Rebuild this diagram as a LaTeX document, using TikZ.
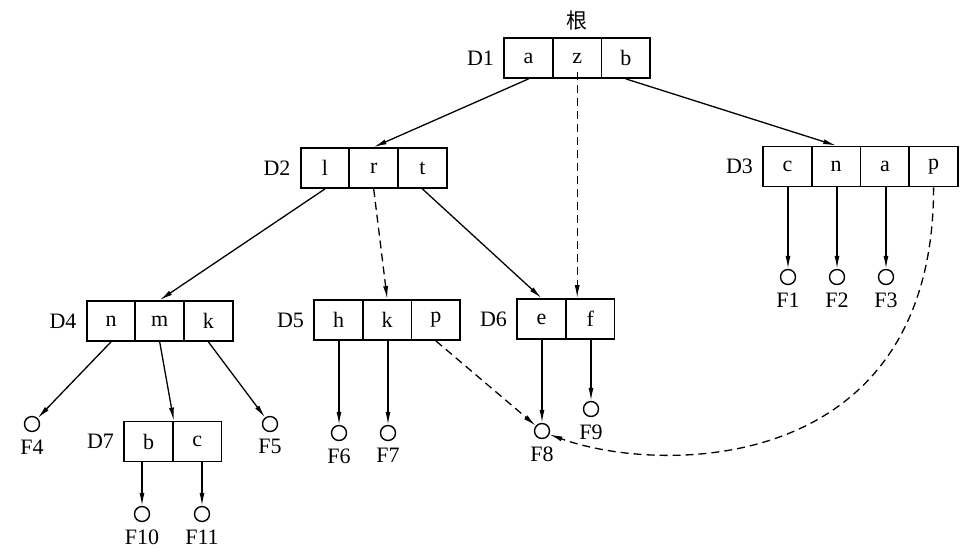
\documentclass[tikz,border=0pt]{standalone}
\usepackage{fontspec}
\setmainfont{Liberation Serif}
\newfontfamily\cjk{Noto Sans CJK SC}
\usetikzlibrary{arrows.meta,positioning}
\newcommand\DBox[3]{\foreach \cl [count=\i] in {#3}
  \node[cell,xshift=(\i-1)*24.35pt] (#1-\i) at (#2) {\cl};
  \node[left=1pt of #1-1] (#1) {#1};}

\begin{document}
\begin{tikzpicture}[x=.5pt,y=-.5pt,font=\fontsize{11}{13}\selectfont,line width=.65pt,
  cell/.style={draw,line width=.9pt,minimum width=24.35pt,minimum height=20pt,inner sep=0pt},
  leaf/.style={draw,circle,line width=.7pt,minimum size=7.5pt,inner sep=0pt},
  link/.style={dash pattern=on 4pt off 2.5pt},
  >={Latex[length=6.5pt,width=2.5pt]}]
\useasboundingbox (0,0) rectangle (978,558);
% index blocks
\DBox{D1}{528.5,58}{a,z,b}
\DBox{D2}{325,168}{l,r,t}
\DBox{D3}{787.5,166.5}{c,n,a,p}
\DBox{D4}{111,321}{n,m,k}
\DBox{D5}{338.5,320}{h,k,p}
\DBox{D6}{541.5,319}{e,f}
\DBox{D7}{148.5,441.5}{b,c}
\node[above=0pt of D1-2,font=\cjk\fontsize{10.5}{12}\selectfont] (root) {根};
% files
\foreach \n/\p in {F1/{788,277},F2/{837,277},F3/{886,277},F4/{32,424},F5/{270,424},
  F6/{339,433},F7/{388,433},F8/{542,431},F9/{591,409},F10/{142,514},F11/{202,514}}
  \node[leaf,label={[label distance=0pt]below:\n}] (\n) at (\p) {};
% pointers
\draw[->] (D1-1.south) -- (D2-2.north);
\draw[->] (D1-3.south) -- (D3-2.north);
\draw[->,link] ([yshift=-7pt]D1-2.center) -- (D1-2 |- D6-2.north);
\draw[->] (D2-1.south) -- (D4-2.north);
\draw[->,link] (D2-2.south) -- (D5-2.north);
\draw[->] (D2-3.south) -- (D6-1.north);
\draw[->] (D4-1.south) -- (F4);
\draw[->] (D4-2.south) -- (D7-1.north east);
\draw[->] (D4-3.south) -- (F5);
\foreach \a/\b in {D3-1/F1,D3-2/F2,D3-3/F3,D5-1/F6,D5-2/F7,D6-1/F8,D6-2/F9,D7-1/F10,D7-2/F11}
  \draw[->] (\b |- \a.south) -- (\b);
\draw[->,link] (D5-3.south) -- (F8);
\draw[->,link] (D3-4.south) .. controls +(0,290) and +(110,40) .. (F8.-25);
\end{tikzpicture}
\end{document}
